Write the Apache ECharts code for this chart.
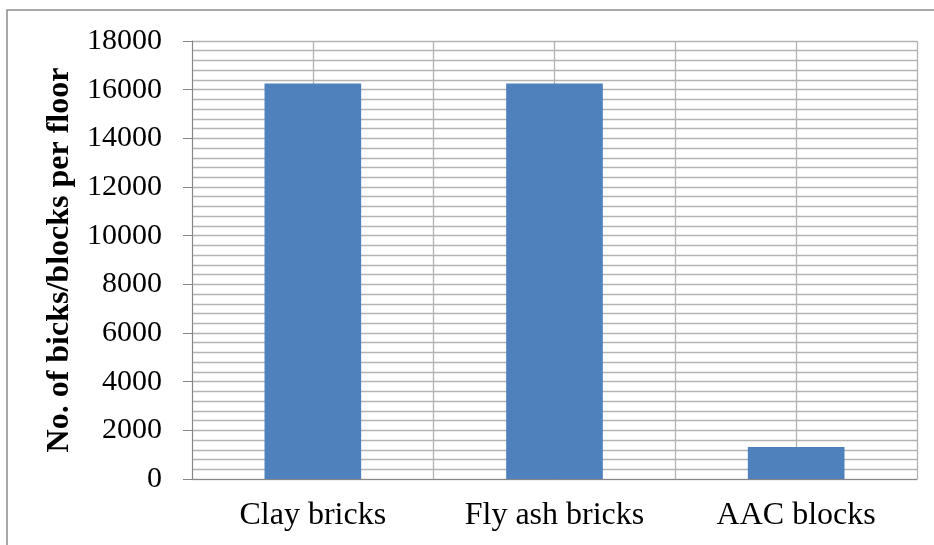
<!DOCTYPE html>
<html>
<head>
<meta charset="utf-8">
<script src="https://cdn.jsdelivr.net/npm/echarts@6/dist/echarts.min.js"></script>
<style>
  html, body { margin: 0; padding: 0; background: #ffffff; }
  #chart { width: 934px; height: 545px; }
</style>
</head>
<body>
<div id="chart"></div>
<script>
// Number of masonry units needed per floor
const categories = ['Clay bricks', 'Fly ash bricks', 'AAC blocks'];
const unitsPerFloor = [16250, 16250, 1320];
const yTicks = { min: 0, max: 18000, interval: 2000 };
const yAxisTitle = 'No. of bicks/blocks per floor';

const serif = '"Liberation Serif", "DejaVu Serif", serif';
const gridGray = '#b3b3b3';
const axisGray = '#868686';

const chart = echarts.init(document.getElementById('chart'), null, { renderer: 'canvas' });

chart.setOption({
  animation: false,
  backgroundColor: '#ffffff',
  graphic: [{
    type: 'rect',
    shape: { x: 7, y: 10, width: 1000, height: 600 },
    style: { fill: 'none', stroke: '#8c8c8c', lineWidth: 1.5 },
    silent: true,
    z: 100
  }],
  grid: { left: 192, right: 17, top: 41, bottom: 66, containLabel: false },
  xAxis: [{
    type: 'category',
    data: categories,
    boundaryGap: true,
    axisLine: { show: true, lineStyle: { color: axisGray, width: 1 } },
    axisTick: { show: false },
    axisLabel: { color: '#000000', fontFamily: serif, fontSize: 32, margin: 21 },
    splitLine: { show: false }
  }, {
    // half-category vertical grid
    type: 'value',
    position: 'bottom',
    min: 0, max: 6, interval: 1,
    axisLine: { show: false },
    axisTick: { show: false },
    axisLabel: { show: false },
    splitLine: { show: true, lineStyle: { color: gridGray, width: 1.3 } }
  }],
  yAxis: {
    type: 'value',
    min: yTicks.min,
    max: yTicks.max,
    interval: yTicks.interval,
    name: yAxisTitle,
    nameLocation: 'middle',
    nameRotate: 90,
    nameGap: 116,
    nameTextStyle: { color: '#000000', fontFamily: serif, fontSize: 32, fontWeight: 'bold' },
    axisLine: { show: true, lineStyle: { color: axisGray, width: 1 } },
    axisTick: { show: true, length: 9, inside: false, lineStyle: { color: axisGray, width: 1 } },
    axisLabel: {
      color: '#000000', fontFamily: serif, fontSize: 30, margin: 30,
      formatter: (v) => String(v)
    },
    splitLine: { show: true, lineStyle: { color: gridGray, width: 1.3 } },
    minorTick: { show: false, splitNumber: 5 },
    minorSplitLine: { show: true, lineStyle: { color: gridGray, width: 1.3 } }
  },
  series: [{
    type: 'bar',
    xAxisIndex: 0,
    data: unitsPerFloor,
    barWidth: '40%',
    itemStyle: { color: '#4f81bd' },
    z: 5
  }]
});
</script>
</body>
</html>
